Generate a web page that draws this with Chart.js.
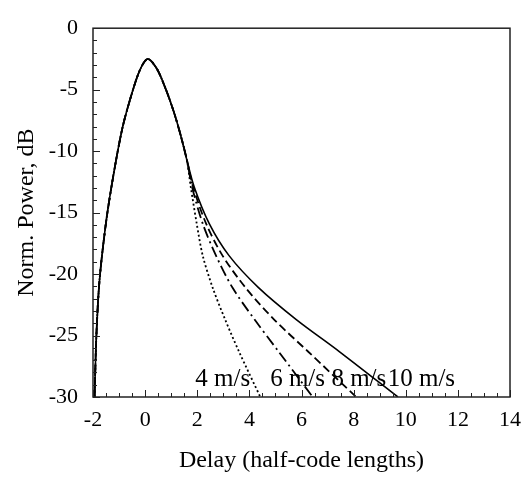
<!DOCTYPE html>
<html>
<head>
<meta charset="utf-8">
<script src="https://cdn.jsdelivr.net/npm/chart.js@4.4.1/dist/chart.umd.min.js"></script>
<style>
  html, body { margin: 0; padding: 0; background: #fff; }
</style>
</head>
<body>
<canvas id="delayChart" width="531" height="481"></canvas>
<script>
// tick labels
const xTicks = [-2, 0, 2, 4, 6, 8, 10, 12, 14];
const yTicks = [-30, -25, -20, -15, -10, -5, 0];

// rising edge + peak, the same for every speed
const riseX = [-1.94, -1.87, -1.75, -1.5, -1.22, -0.88, -0.55, -0.2, 0.1, 0.45, 0.8, 1.1, 1.35, 1.6];
const riseY = [-30, -25, -20.5, -15.8, -12, -8.2, -5.6, -3.4, -2.5, -3.3, -5.0, -6.8, -8.6, -10.7];

// tails, one per speed
const tailY = [-12.9, -15.9, -18.5, -21.1, -23.7, -26.3, -30];
const tail4X = [1.75, 1.98, 2.21, 2.59, 3.07, 3.6, 4.42];
const tail6X = [1.8, 2.21, 2.72, 3.35, 4.2, 5.12, 6.43];
const tail8X = [1.84, 2.34, 2.97, 3.85, 4.95, 6.25, 8.1];
const tail10X = [1.88, 2.46, 3.22, 4.35, 5.8, 7.45, 9.7];

// curve labels
const speedLabels = ["4 m/s", "6 m/s", "8 m/s", "10 m/s"];
const speedLabelX = [2.98, 5.85, 8.2, 10.6];
const speedLabelY = -29.1;

const buildCurve = (tailX) =>
  riseX.map((x, i) => ({ x: x, y: riseY[i] }))
    .concat(tailX.map((x, i) => ({ x: x, y: tailY[i] })));

const serif = "'Liberation Serif', 'Times New Roman', serif";

const frameAndLabels = {
  id: "frameAndLabels",
  afterDatasetsDraw(chart) {
    const { ctx, chartArea: a, scales: { x, y } } = chart;
    ctx.save();
    ctx.strokeStyle = "#222";
    ctx.lineWidth = 1.5;
    ctx.strokeRect(a.left, a.top, a.right - a.left, a.bottom - a.top);

    // inward tick marks, minor every 0.5 on x and 1 on y
    ctx.lineWidth = 1;
    for (let v = xTicks[0]; v <= xTicks[xTicks.length - 1] + 1e-9; v += 0.5) {
      const px = Math.round(x.getPixelForValue(v)) + 0.5;
      const len = Math.abs(v % 2) < 1e-9 ? 7 : 4;
      ctx.beginPath();
      ctx.moveTo(px, a.bottom);
      ctx.lineTo(px, a.bottom - len);
      ctx.stroke();
    }
    for (let v = yTicks[0]; v <= yTicks[yTicks.length - 1] + 1e-9; v += 1) {
      const py = Math.round(y.getPixelForValue(v)) + 0.5;
      const len = Math.abs(v % 5) < 1e-9 ? 7 : 4;
      ctx.beginPath();
      ctx.moveTo(a.left, py);
      ctx.lineTo(a.left + len, py);
      ctx.stroke();
    }

    ctx.fillStyle = "#000";
    ctx.font = "25px " + serif;
    ctx.textAlign = "center";
    ctx.textBaseline = "alphabetic";
    speedLabels.forEach((t, i) => {
      ctx.fillText(t, x.getPixelForValue(speedLabelX[i]), y.getPixelForValue(speedLabelY));
    });
    ctx.restore();
  }
};

const lineStyle = (dash, width) => ({
  borderColor: "#000",
  borderWidth: width,
  borderDash: dash,
  pointRadius: 0,
  fill: false,
  tension: 0.3
});

new Chart(document.getElementById("delayChart"), {
  type: "line",
  data: {
    datasets: [
      { label: "4 m/s", data: buildCurve(tail4X), ...lineStyle([2, 2.5], 1.8) },
      { label: "6 m/s", data: buildCurve(tail6X), ...lineStyle([11, 4, 2, 4], 1.8) },
      { label: "8 m/s", data: buildCurve(tail8X), ...lineStyle([8, 4], 1.8) },
      { label: "10 m/s", data: buildCurve(tail10X), ...lineStyle([], 1.6) }
    ]
  },
  options: {
    responsive: false,
    animation: false,
    layout: { padding: { left: 0, top: 13, right: 15, bottom: 0 } },
    plugins: { legend: { display: false }, tooltip: { enabled: false } },
    scales: {
      x: {
        type: "linear",
        min: -2,
        max: 14,
        afterBuildTicks: (s) => { s.ticks = xTicks.map((v) => ({ value: v })); },
        afterFit: (s) => { s.height = 84; },
        grid: { display: false, drawTicks: false },
        border: { display: false },
        ticks: { padding: 10, color: "#000", font: { family: serif, size: 22 }, maxRotation: 0 },
        title: {
          display: true,
          text: "Delay (half-code lengths)",
          color: "#000",
          font: { family: serif, size: 24 },
          padding: { top: 0, bottom: 6 }
        }
      },
      y: {
        min: -30,
        max: 0,
        afterBuildTicks: (s) => { s.ticks = yTicks.map((v) => ({ value: v })); },
        afterFit: (s) => { s.width = 93; },
        grid: { display: false, drawTicks: false },
        border: { display: false },
        ticks: { padding: 15, color: "#000", font: { family: serif, size: 22 } },
        title: {
          display: true,
          text: "Norm. Power, dB",
          color: "#000",
          font: { family: serif, size: 24 },
          padding: { top: 12, bottom: 0 }
        }
      }
    }
  },
  plugins: [frameAndLabels]
});
</script>
</body>
</html>
